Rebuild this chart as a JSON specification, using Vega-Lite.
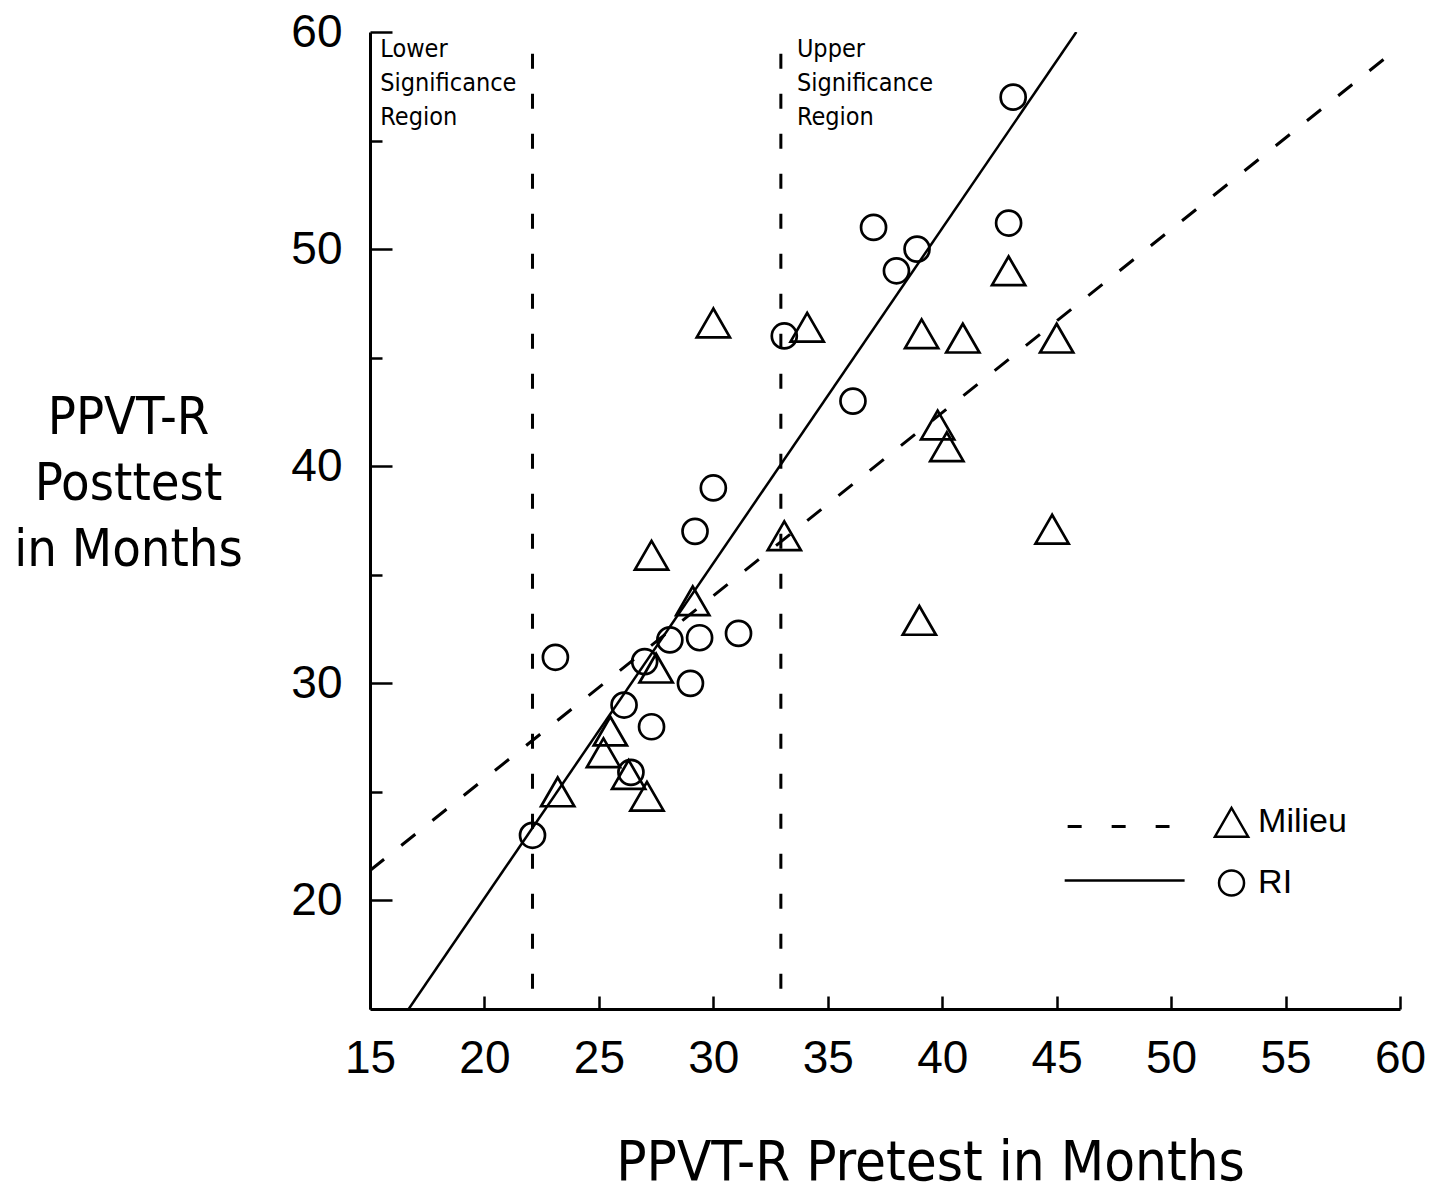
{
  "$schema": "https://vega.github.io/schema/vega-lite/v6.json",
  "autosize": "none",
  "width": 1030,
  "height": 977,
  "padding": {"left": 370, "top": 32, "right": 42, "bottom": 187},
  "background": "white",
  "config": {
    "view": {"stroke": null},
    "axis": {
      "grid": false,
      "domainColor": "black",
      "domainWidth": 3,
      "tickColor": "black",
      "tickWidth": 2.5,
      "labelColor": "black",
      "labelFont": "Liberation Sans",
      "labelFontSize": 46,
      "labelFlush": false,
      "labelOverlap": false,
      "labelBound": false,
      "titleColor": "black",
      "titleFont": "DejaVu Sans Condensed",
      "titleFontWeight": "normal"
    }
  },
  "datasets": {
    "points": [
      {"pre": 42.9, "post": 49.0, "group": "Milieu"},
      {"pre": 30.0, "post": 46.6, "group": "Milieu"},
      {"pre": 34.1, "post": 46.4, "group": "Milieu"},
      {"pre": 39.1, "post": 46.1, "group": "Milieu"},
      {"pre": 40.9, "post": 45.9, "group": "Milieu"},
      {"pre": 45.0, "post": 45.9, "group": "Milieu"},
      {"pre": 39.8, "post": 41.9, "group": "Milieu"},
      {"pre": 40.2, "post": 40.9, "group": "Milieu"},
      {"pre": 44.8, "post": 37.1, "group": "Milieu"},
      {"pre": 33.1, "post": 36.8, "group": "Milieu"},
      {"pre": 27.3, "post": 35.9, "group": "Milieu"},
      {"pre": 29.1, "post": 33.8, "group": "Milieu"},
      {"pre": 39.0, "post": 32.9, "group": "Milieu"},
      {"pre": 27.5, "post": 30.7, "group": "Milieu"},
      {"pre": 25.5, "post": 27.8, "group": "Milieu"},
      {"pre": 25.2, "post": 26.8, "group": "Milieu"},
      {"pre": 26.3, "post": 25.8, "group": "Milieu"},
      {"pre": 27.1, "post": 24.8, "group": "Milieu"},
      {"pre": 23.2, "post": 25.0, "group": "Milieu"},
      {"pre": 43.1, "post": 57.0, "group": "RI"},
      {"pre": 42.9, "post": 51.2, "group": "RI"},
      {"pre": 37.0, "post": 51.0, "group": "RI"},
      {"pre": 38.9, "post": 50.0, "group": "RI"},
      {"pre": 38.0, "post": 49.0, "group": "RI"},
      {"pre": 33.1, "post": 46.0, "group": "RI"},
      {"pre": 36.1, "post": 43.0, "group": "RI"},
      {"pre": 30.0, "post": 39.0, "group": "RI"},
      {"pre": 29.2, "post": 37.0, "group": "RI"},
      {"pre": 31.1, "post": 32.3, "group": "RI"},
      {"pre": 29.4, "post": 32.1, "group": "RI"},
      {"pre": 28.1, "post": 32.0, "group": "RI"},
      {"pre": 23.1, "post": 31.2, "group": "RI"},
      {"pre": 27.0, "post": 31.0, "group": "RI"},
      {"pre": 26.1, "post": 29.0, "group": "RI"},
      {"pre": 29.0, "post": 30.0, "group": "RI"},
      {"pre": 27.3, "post": 28.0, "group": "RI"},
      {"pre": 26.4, "post": 25.9, "group": "RI"},
      {"pre": 22.1, "post": 23.0, "group": "RI"}
    ],
    "fits": [
      {"group": "Milieu", "pre": 15, "post": 21.38},
      {"group": "Milieu", "pre": 60, "post": 59.34},
      {"group": "RI", "pre": 16.69, "post": 15},
      {"group": "RI", "pre": 45.86, "post": 60}
    ],
    "sig": [
      {"pre": 22.1, "top": 59.0, "bottom": 15},
      {"pre": 32.95, "top": 59.0, "bottom": 15}
    ],
    "notes": [
      {"pre": 15.45, "post": 59.75, "label": "Lower\nSignificance\nRegion"},
      {"pre": 33.65, "post": 59.75, "label": "Upper\nSignificance\nRegion"}
    ],
    "legendLines": [
      {"group": "Milieu", "x1": 45.48, "x2": 49.93, "post": 23.41},
      {"group": "RI", "x1": 45.35, "x2": 50.59, "post": 20.92}
    ],
    "legendItems": [
      {"group": "Milieu", "sx": 52.64, "tx": 53.8, "post": 23.6},
      {"group": "RI", "sx": 52.64, "tx": 53.8, "post": 20.8}
    ]
  },
  "resolve": {"axis": {"y": "independent"}},
  "layer": [
    {
      "data": {"name": "sig"},
      "mark": {"type": "rule", "color": "black", "strokeWidth": 3, "strokeDash": [15, 25]},
      "encoding": {
        "x": {
          "field": "pre", "type": "quantitative",
          "scale": {"domain": [15, 60], "nice": false, "zero": false},
          "axis": {
            "values": [15, 20, 25, 30, 35, 40, 45, 50, 55, 60],
            "tickSize": -13,
            "labelPadding": 40,
            "title": "PPVT-R Pretest in Months",
            "titleFontSize": 56,
            "titleX": 560,
            "titleY": 170,
            "titleAlign": "center",
            "titleBaseline": "alphabetic",
            "titleAnchor": null
          }
        },
        "y": {
          "field": "top", "type": "quantitative",
          "scale": {"domain": [15, 60], "nice": false, "zero": false},
          "axis": {
            "values": [20, 30, 40, 50, 60],
            "tickSize": -22,
            "labelPadding": 50,
            "title": ["PPVT-R", "Posttest", "in Months"],
            "titleFontSize": 52,
            "titleLineHeight": 66,
            "titleAngle": 0,
            "titleX": -242,
            "titleY": 401,
            "titleAlign": "center",
            "titleBaseline": "alphabetic",
            "titleAnchor": null
          }
        },
        "y2": {"field": "bottom"}
      }
    },
    {
      "data": {"name": "fits"},
      "transform": [{"filter": "datum.group === 'Milieu'"}],
      "mark": {"type": "line", "color": "black", "strokeWidth": 3, "strokeDash": [18, 22], "clip": true},
      "encoding": {
        "x": {"field": "pre", "type": "quantitative"},
        "y": {"field": "post", "type": "quantitative", "axis": {"values": [25, 35, 45, 55], "tickSize": -12, "labels": false, "domain": false, "title": null, "orient": "left"}}
      }
    },
    {
      "data": {"name": "fits"},
      "transform": [{"filter": "datum.group === 'RI'"}],
      "mark": {"type": "line", "color": "black", "strokeWidth": 2.5, "clip": true},
      "encoding": {
        "x": {"field": "pre", "type": "quantitative"},
        "y": {"field": "post", "type": "quantitative", "axis": null}
      }
    },
    {
      "data": {"name": "points"},
      "mark": {"type": "point", "filled": false, "color": "black", "strokeWidth": 2.7, "opacity": 1},
      "encoding": {
        "x": {"field": "pre", "type": "quantitative"},
        "y": {"field": "post", "type": "quantitative", "axis": null},
        "shape": {"field": "group", "type": "nominal", "scale": {"domain": ["Milieu", "RI"], "range": ["triangle-up", "circle"]}, "legend": null},
        "size": {"field": "group", "type": "nominal", "scale": {"domain": ["Milieu", "RI"], "range": [1100, 625]}, "legend": null}
      }
    },
    {
      "data": {"name": "notes"},
      "mark": {"type": "text", "align": "left", "baseline": "top", "lineBreak": "\n", "font": "DejaVu Sans Condensed", "fontSize": 25, "lineHeight": 34, "color": "black"},
      "encoding": {
        "x": {"field": "pre", "type": "quantitative"},
        "y": {"field": "post", "type": "quantitative", "axis": null},
        "text": {"field": "label"}
      }
    },
    {
      "data": {"name": "legendLines"},
      "transform": [{"filter": "datum.group === 'Milieu'"}],
      "mark": {"type": "rule", "color": "black", "strokeWidth": 3, "strokeDash": [14, 30]},
      "encoding": {
        "x": {"field": "x1", "type": "quantitative"},
        "x2": {"field": "x2"},
        "y": {"field": "post", "type": "quantitative", "axis": null}
      }
    },
    {
      "data": {"name": "legendLines"},
      "transform": [{"filter": "datum.group === 'RI'"}],
      "mark": {"type": "rule", "color": "black", "strokeWidth": 2.5},
      "encoding": {
        "x": {"field": "x1", "type": "quantitative"},
        "x2": {"field": "x2"},
        "y": {"field": "post", "type": "quantitative", "axis": null}
      }
    },
    {
      "data": {"name": "legendItems"},
      "mark": {"type": "point", "filled": false, "color": "black", "strokeWidth": 2.5, "opacity": 1},
      "encoding": {
        "x": {"field": "sx", "type": "quantitative"},
        "y": {"field": "post", "type": "quantitative", "axis": null},
        "shape": {"field": "group", "type": "nominal", "legend": null},
        "size": {"field": "group", "type": "nominal", "scale": {"domain": ["Milieu", "RI"], "range": [700, 260]}, "legend": null}
      }
    },
    {
      "data": {"name": "legendItems"},
      "mark": {"type": "text", "align": "left", "baseline": "middle", "font": "Liberation Sans", "fontSize": 34, "color": "black"},
      "encoding": {
        "x": {"field": "tx", "type": "quantitative"},
        "y": {"field": "post", "type": "quantitative", "axis": null},
        "text": {"field": "group"}
      }
    }
  ]
}
